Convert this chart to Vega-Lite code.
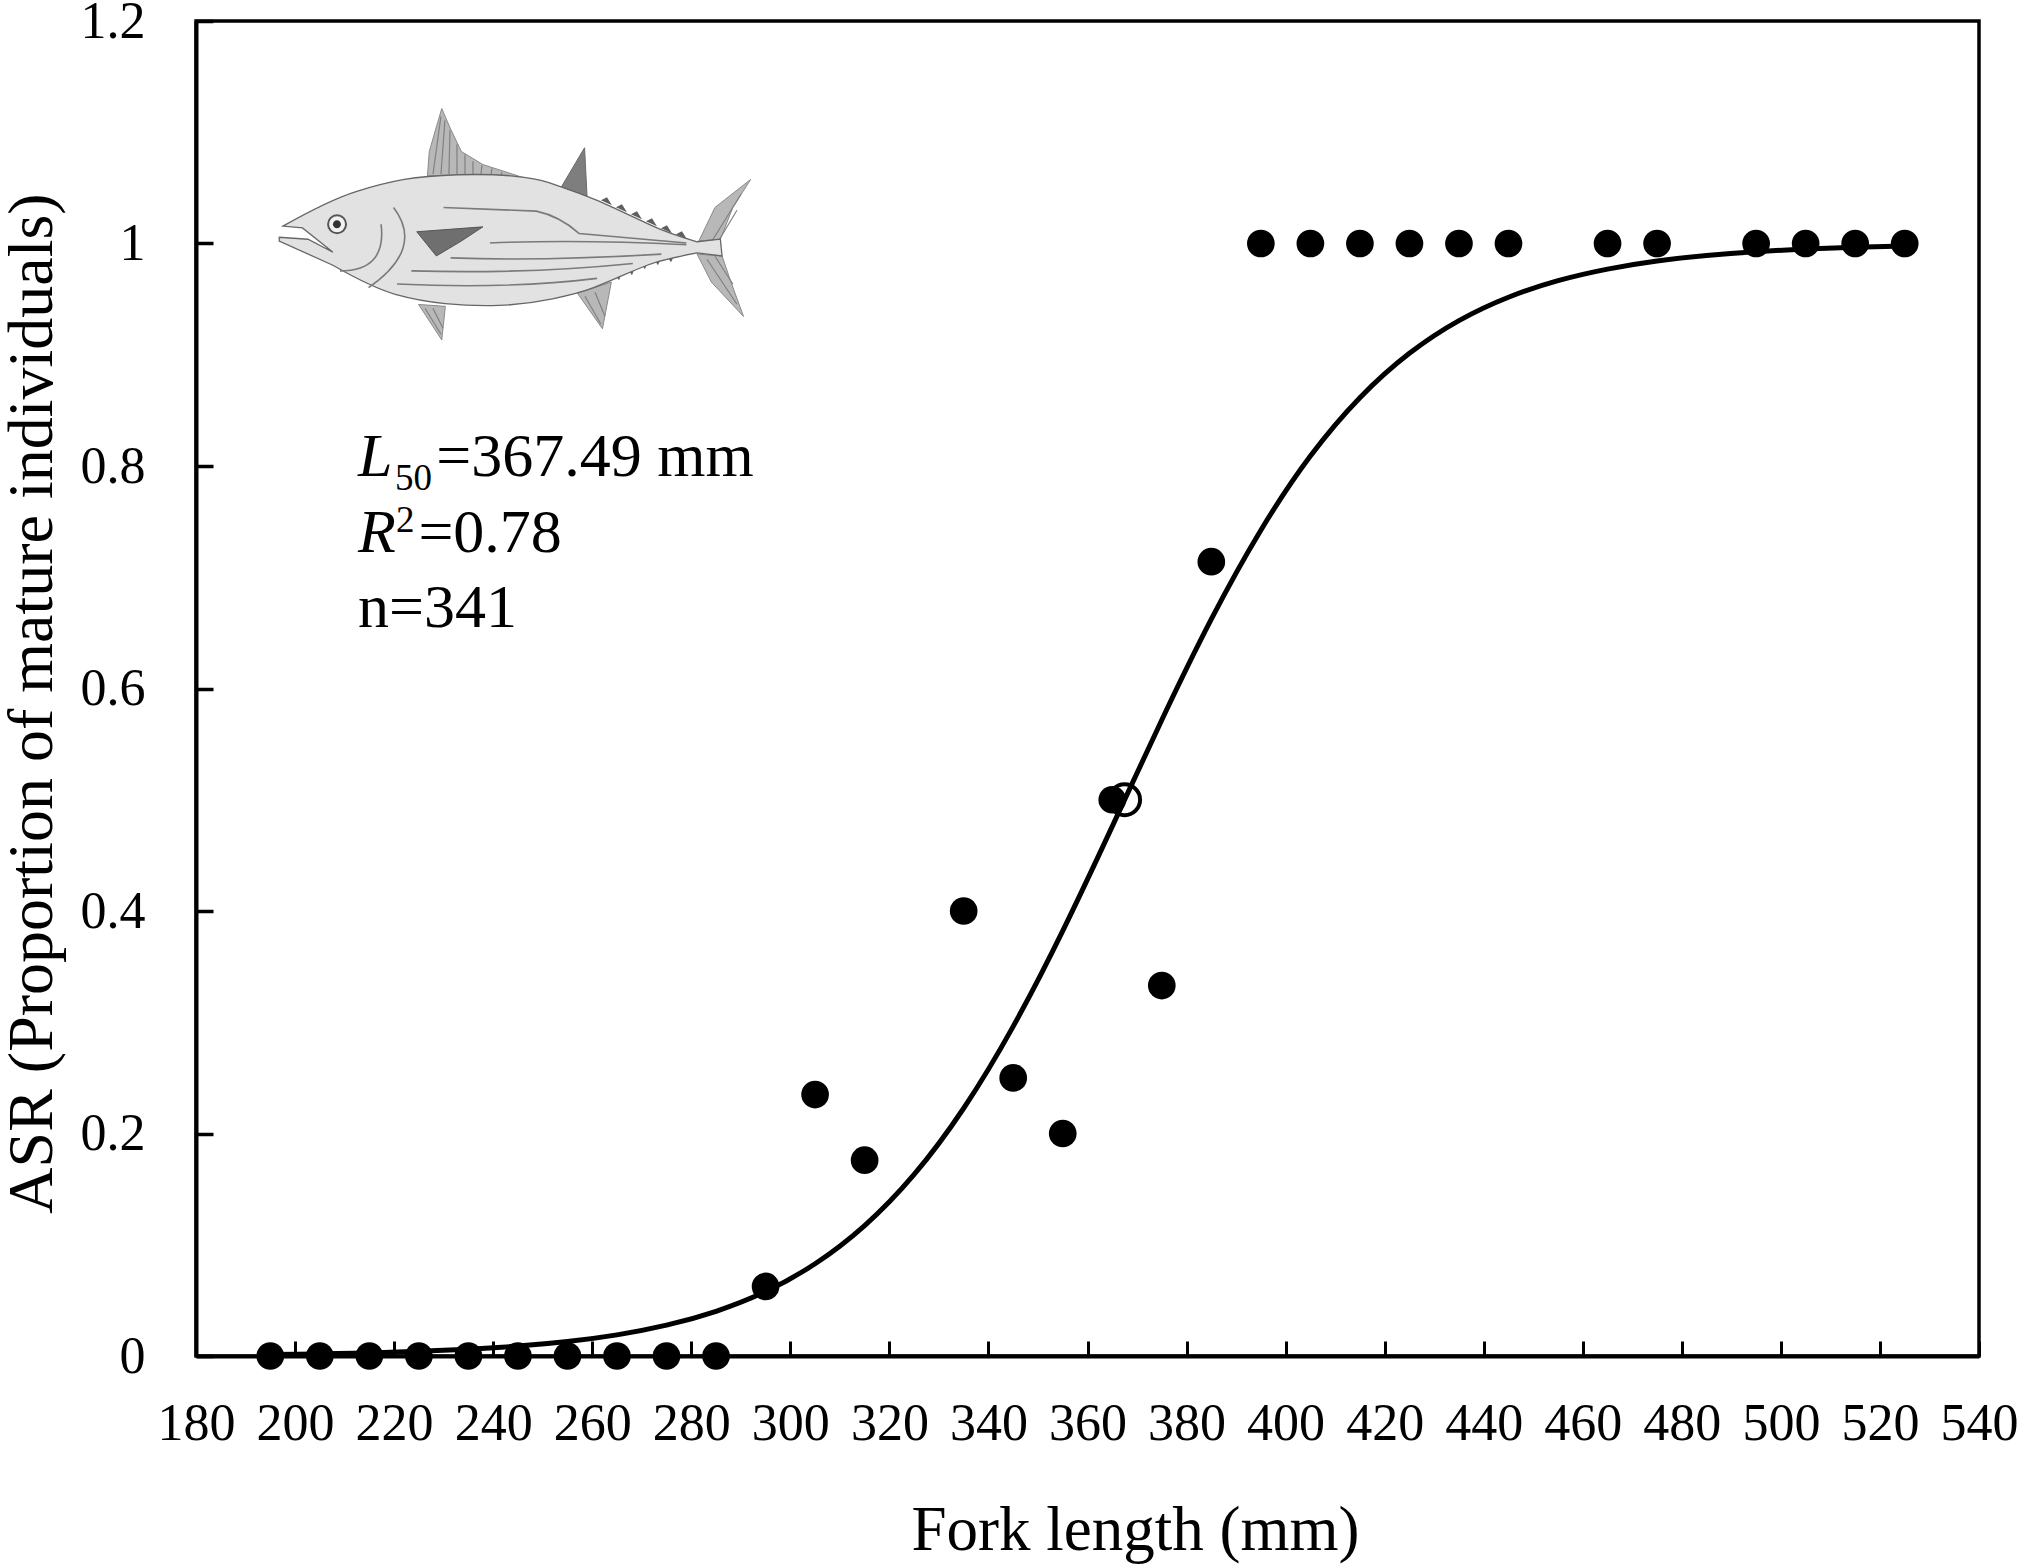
{
  "$schema": "https://vega.github.io/schema/vega-lite/v6.json",
  "description": "Size at sexual maturity of skipjack, proportion of mature individuals by fork length",
  "width": 1783,
  "height": 1335,
  "autosize": "none",
  "padding": {"left": 196, "top": 21, "right": 43, "bottom": 208},
  "background": "white",
  "config": {
    "font": "Liberation Serif",
    "view": {"stroke": "black", "strokeWidth": 3.5},
    "axis": {
      "grid": false,
      "labelFont": "Liberation Serif",
      "titleFont": "Liberation Serif",
      "labelColor": "black",
      "titleColor": "black",
      "labelFontSize": 52,
      "titleFontSize": 63,
      "titleFontWeight": "normal",
      "labelOverlap": false,
      "labelFlush": false,
      "labelBound": false,
      "domainColor": "black",
      "domainWidth": 4,
      "tickColor": "black"
    }
  },
  "datasets": {
    "points": [
      {"fork_length": 195, "asr": 0}, {"fork_length": 205, "asr": 0}, {"fork_length": 215, "asr": 0},
      {"fork_length": 225, "asr": 0}, {"fork_length": 235, "asr": 0}, {"fork_length": 245, "asr": 0},
      {"fork_length": 255, "asr": 0}, {"fork_length": 265, "asr": 0}, {"fork_length": 275, "asr": 0},
      {"fork_length": 285, "asr": 0}, {"fork_length": 295, "asr": 0.0625}, {"fork_length": 305, "asr": 0.235},
      {"fork_length": 315, "asr": 0.176}, {"fork_length": 335, "asr": 0.4}, {"fork_length": 345, "asr": 0.25},
      {"fork_length": 355, "asr": 0.2}, {"fork_length": 365, "asr": 0.5}, {"fork_length": 375, "asr": 0.333},
      {"fork_length": 385, "asr": 0.714}, {"fork_length": 395, "asr": 1}, {"fork_length": 405, "asr": 1},
      {"fork_length": 415, "asr": 1}, {"fork_length": 425, "asr": 1}, {"fork_length": 435, "asr": 1},
      {"fork_length": 445, "asr": 1}, {"fork_length": 465, "asr": 1}, {"fork_length": 475, "asr": 1},
      {"fork_length": 495, "asr": 1}, {"fork_length": 505, "asr": 1}, {"fork_length": 515, "asr": 1},
      {"fork_length": 525, "asr": 1}
    ],
    "curve": [
      {"fork_length": 195, "asr": 0.0013}, {"fork_length": 205, "asr": 0.0019}, {"fork_length": 215, "asr": 0.0028},
      {"fork_length": 225, "asr": 0.0042}, {"fork_length": 235, "asr": 0.0061}, {"fork_length": 245, "asr": 0.0089},
      {"fork_length": 255, "asr": 0.013}, {"fork_length": 265, "asr": 0.019}, {"fork_length": 275, "asr": 0.0277},
      {"fork_length": 285, "asr": 0.0402}, {"fork_length": 295, "asr": 0.0579}, {"fork_length": 305, "asr": 0.0829},
      {"fork_length": 315, "asr": 0.1172}, {"fork_length": 325, "asr": 0.1632}, {"fork_length": 335, "asr": 0.2227},
      {"fork_length": 345, "asr": 0.2963}, {"fork_length": 355, "asr": 0.3822}, {"fork_length": 365, "asr": 0.4761},
      {"fork_length": 375, "asr": 0.5717}, {"fork_length": 385, "asr": 0.6623}, {"fork_length": 395, "asr": 0.7423},
      {"fork_length": 405, "asr": 0.8089}, {"fork_length": 415, "asr": 0.8614}, {"fork_length": 425, "asr": 0.9013},
      {"fork_length": 435, "asr": 0.9307}, {"fork_length": 445, "asr": 0.9517}, {"fork_length": 455, "asr": 0.9666},
      {"fork_length": 465, "asr": 0.977}, {"fork_length": 475, "asr": 0.9843}, {"fork_length": 485, "asr": 0.9892},
      {"fork_length": 495, "asr": 0.9926}, {"fork_length": 505, "asr": 0.995}, {"fork_length": 515, "asr": 0.9966},
      {"fork_length": 525, "asr": 0.9977}
    ],
    "fish": [{"fork_length": 244.4, "asr": 1.0173}]
  },
  "encoding": {
    "x": {
      "field": "fork_length",
      "type": "quantitative",
      "scale": {"domain": [180, 540], "nice": false, "zero": false},
      "axis": {
        "title": "Fork length (mm)",
        "values": [180, 200, 220, 240, 260, 280, 300, 320, 340, 360, 380, 400, 420, 440, 460, 480, 500, 520, 540],
        "tickSize": -15,
        "tickWidth": 3,
        "labelPadding": 57,
        "titleX": 939,
        "titleY": 193,
        "titleBaseline": "alphabetic"
      }
    },
    "y": {
      "field": "asr",
      "type": "quantitative",
      "scale": {"domain": [0, 1.2], "nice": false},
      "axis": {
        "title": "ASR (Proportion of mature individuals)",
        "values": [0, 0.2, 0.4, 0.6, 0.8, 1, 1.2],
        "format": ".1~f",
        "tickSize": -17,
        "tickWidth": 3.5,
        "labelPadding": 68,
        "titleFontSize": 64,
        "titleX": -145,
        "titleY": 682,
        "titleBaseline": "alphabetic"
      }
    }
  },
  "layer": [
    {
      "data": {"values": [{"fork_length": 367.49, "asr": 0.5}]},
      "mark": {"type": "point", "shape": "circle", "filled": true, "fill": "white", "stroke": "black", "strokeWidth": 4, "opacity": 1, "size": 960}
    },
    {
      "data": {"name": "curve"},
      "mark": {"type": "line", "color": "black", "strokeWidth": 5, "interpolate": "natural"}
    },
    {
      "data": {"name": "points"},
      "mark": {"type": "point", "shape": "circle", "filled": true, "color": "black", "opacity": 1, "size": 767}
    },
    {
      "data": {"name": "fish"},
      "mark": {"type": "point", "size": 4, "opacity": 1, "filled": true, "fill": "#b8b8b8", "stroke": "#8a8a8a", "strokeWidth": 1,
        "shape": "M-87.5,-48.5L-85.7,-72.8L-73.2,-115.7L-64.3,-95.1L-53.6,-72.8L-32.1,-59.7L10.7,-45.9ZM183.9,16.8L200,-16.8L235.7,-44.8L217.9,-16.8L205.4,14.9ZM182.1,29.9L196.4,57.8L228.6,92.2L216,57.8L207.1,31.7ZM-96.4,80.2L-73.2,115.7L-69.6,82.1ZM62.5,69L87.5,104.5L96.4,57.8Z"}
    },
    {
      "data": {"name": "fish"},
      "mark": {"type": "point", "size": 4, "opacity": 1, "filled": false, "stroke": "#808080", "strokeWidth": 1.2,
        "shape": "M-82,-50L-74,-108M-74,-50L-70,-104M-66,-50L-65,-94M-58,-50L-58,-80M-50,-50L-50,-70M-42,-50L-42,-63M-34,-50L-33,-59M-24,-49L-23,-56M-14,-49L-13,-52M195,20L226,-30M198,26L222,-14M192,35L222,80M200,32L218,60M-90,84L-74,110M-82,84L-72,104M70,72L86,100M80,68L90,92"}
    },
    {
      "data": {"name": "fish"},
      "mark": {"type": "point", "size": 4, "opacity": 1, "filled": true, "fill": "#7e7e7e", "stroke": "#6a6a6a", "strokeWidth": 1,
        "shape": "M46.4,-37.3L69.6,-76.5L72.1,-27.8Z"}
    },
    {
      "data": {"name": "fish"},
      "mark": {"type": "point", "size": 4, "opacity": 1, "filled": true, "fill": "#5f5f5f", "strokeWidth": 0,
        "shape": "M86,-24l6,-3l5,8ZM101,-17l6,-3l5,8ZM116,-10l6,-3l5,8ZM131,-3l6,-3l5,8ZM146,4l6,-3l5,8ZM161,10l6,-3l5,8ZM100,50l4,6l4,-10ZM113,45l4,6l4,-10ZM126,39l4,6l4,-10ZM139,35l4,6l4,-10ZM152,32l4,6l4,-8Z"}
    },
    {
      "data": {"name": "fish"},
      "mark": {"type": "point", "size": 4, "opacity": 1, "filled": true, "fill": "#e2e2e2", "stroke": "#666666", "strokeWidth": 1.3,
        "shape": "M-232.1,1.9Q-185.7,-24.3 -158.9,-32.7Q-132.1,-41 -110.7,-44.8Q-89.3,-48.5 -57.2,-49.5Q-25,-50.4 -1.8,-48.2Q21.4,-45.9 33.9,-41.6Q46.4,-37.3 64.3,-30.8Q82.1,-24.3 100,-15.9Q117.9,-7.5 135.8,0.9Q153.6,9.3 182.1,17.5L205.4,14.9L207.1,31.7L182.1,28.7Q146.4,35.4 132.2,41Q117.9,46.6 105.4,52.2Q92.9,57.8 78.6,63.4Q64.3,69 37.5,74.6Q10.7,80.2 -16.1,81.2Q-42.9,82.1 -69.7,79.3Q-96.4,76.5 -119.7,70Q-142.9,63.4 -182.1,41L-235.7,16.8L-235.7,13L-207,15L-182,28L-212.5,3.7Z"}
    },
    {
      "data": {"name": "fish"},
      "mark": {"type": "point", "size": 4, "opacity": 1, "filled": true, "fill": "#6f6f6f", "stroke": "#555555", "strokeWidth": 1,
        "shape": "M-98.2,7.5L-32.1,2.6L-53.6,16.8L-78.6,31.7Z"}
    },
    {
      "data": {"name": "fish"},
      "mark": {"type": "point", "size": 4, "opacity": 1, "filled": false, "stroke": "#7a7a7a", "strokeWidth": 1.6,
        "shape": "M-25,18.7Q64.3,15 171.4,20.5M-64.3,33.6Q28.6,37 146.4,29.9M-103.6,46.6Q10.7,50 117.9,39.2M-117.9,59.7Q-7.1,65 82.1,54.1M-71.4,-16.8L21.4,-13.1Q45,-8 64.3,9.3L171.4,18.7M-121.4,-16.8Q-90,24.3 -146.4,63.4M-133.9,0Q-128,46.6 -175,46.6"}
    },
    {
      "data": {"name": "fish"},
      "mark": {"type": "point", "size": 4, "opacity": 1, "filled": true, "fill": "#f2f2f2", "stroke": "#555555", "strokeWidth": 2,
        "shape": "M-186.9,0a9,9 0 1,0 18,0a9,9 0 1,0 -18,0Z"}
    },
    {
      "data": {"name": "fish"},
      "mark": {"type": "point", "size": 4, "opacity": 1, "filled": true, "fill": "#333333", "strokeWidth": 0,
        "shape": "M-182,0a4,4 0 1,0 8,0a4,4 0 1,0 -8,0Z"}
    },
    {
      "data": {"values": [
        {"fork_length": 212.7, "asr": 0.791, "label": "L"},
        {"fork_length": 212.7, "asr": 0.7224, "label": "R"}
      ]},
      "mark": {"type": "text", "font": "Liberation Serif", "fontStyle": "italic", "fontSize": 62, "align": "left", "baseline": "alphabetic", "color": "black"},
      "encoding": {"text": {"field": "label"}}
    },
    {
      "data": {"values": [
        {"fork_length": 228.5, "asr": 0.791, "label": "=367.49 mm"},
        {"fork_length": 224.9, "asr": 0.7224, "label": "=0.78"},
        {"fork_length": 212.7, "asr": 0.6554, "label": "n=341"}
      ]},
      "mark": {"type": "text", "font": "Liberation Serif", "fontSize": 62, "align": "left", "baseline": "alphabetic", "color": "black"},
      "encoding": {"text": {"field": "label"}}
    },
    {
      "data": {"values": [
        {"fork_length": 220.2, "asr": 0.778, "label": "50"},
        {"fork_length": 220.4, "asr": 0.741, "label": "2"}
      ]},
      "mark": {"type": "text", "font": "Liberation Serif", "fontSize": 37, "align": "left", "baseline": "alphabetic", "color": "black"},
      "encoding": {"text": {"field": "label"}}
    }
  ]
}
